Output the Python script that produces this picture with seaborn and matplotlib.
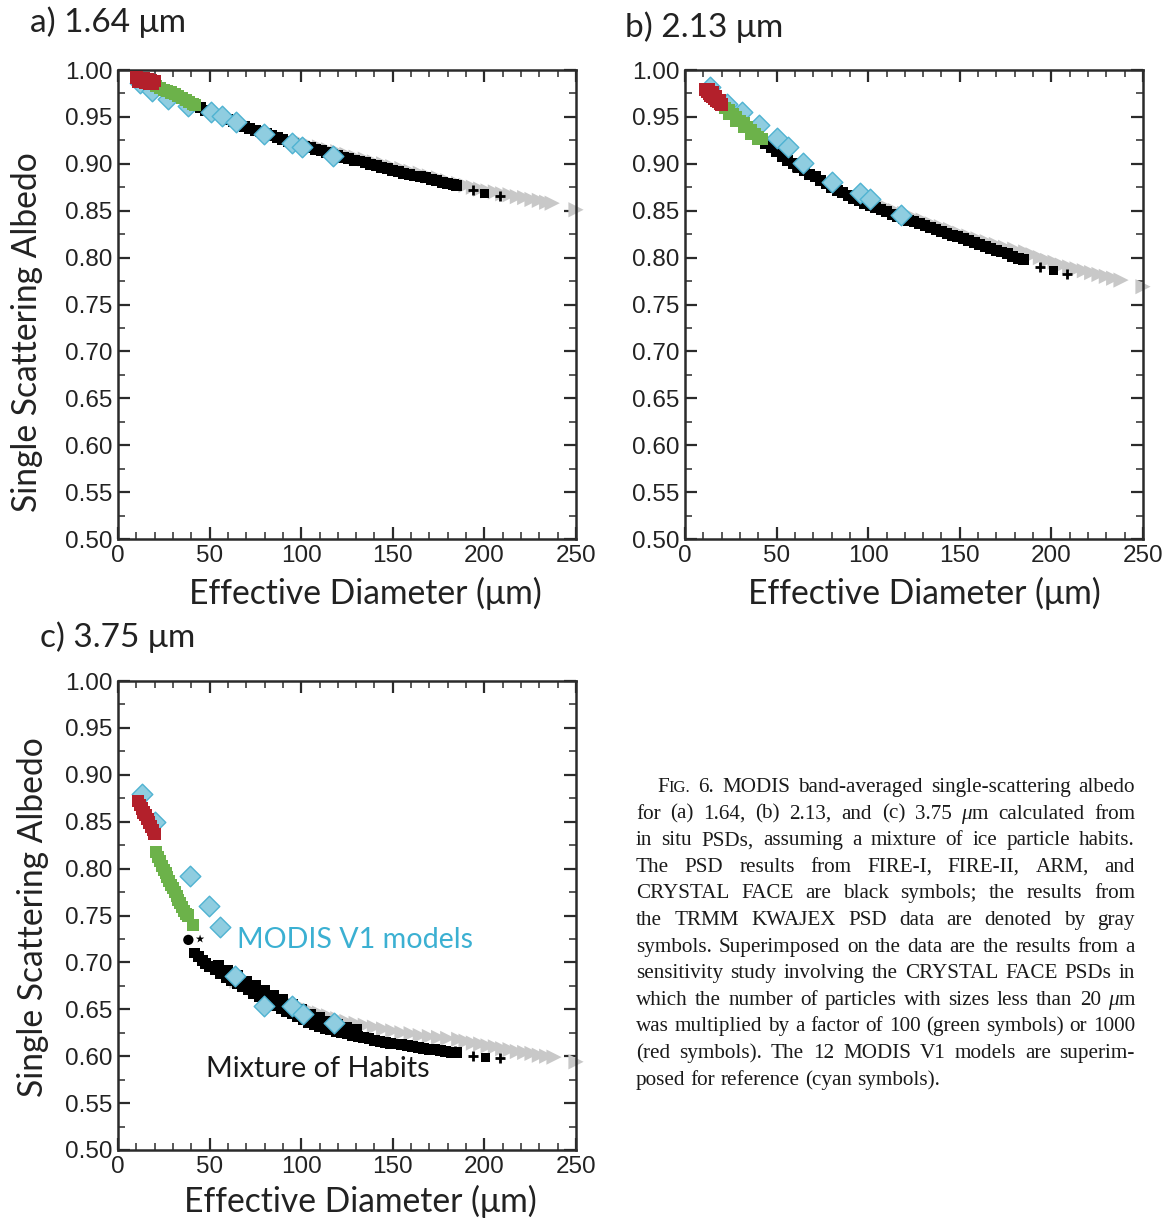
import matplotlib
matplotlib.use("Agg")
import matplotlib.pyplot as plt
from matplotlib.ticker import MultipleLocator, FormatStrFormatter
import seaborn as sns

# ---------------- data ----------------
# Panel a) 1.64 um
a_black_x = [42, 45, 48, 51, 54, 57, 60, 63, 66, 69, 72, 75, 78, 81, 84, 87, 90, 93, 96, 99,
             102, 105, 108, 111, 114, 117, 120, 123, 126, 129, 132, 135, 138, 141, 144, 147,
             150, 153, 156, 159, 162, 165, 168, 171, 174, 177, 180, 183, 185]
a_black_y = [.962, .960, .957, .955, .952, .950, .947, .945, .942, .940, .938, .936, .934, .932,
             .930, .928, .926, .924, .922, .920, .919, .917, .915, .914, .912, .910, .909, .907,
             .906, .904, .903, .901, .899, .898, .896, .895, .893, .892, .890, .889, .887, .886,
             .885, .883, .882, .880, .879, .878, .877]
a_plus_x = [184, 194, 208.5]
a_plus_y = [.877, .872, .866]
a_sq_x = [200]
a_sq_y = [.868]
a_gray_x = [100, 105, 110, 115, 120, 125, 130, 135, 140, 145, 150, 155, 160, 165, 170, 175,
            180, 186, 190, 194, 198, 202, 206, 210, 214, 218, 222, 226, 230, 234, 237, 250]
a_gray_y = [.923, .920, .918, .915, .913, .910, .907, .905, .902, .900, .897, .895, .892, .890,
            .887, .885, .882, .879, .877, .875, .873, .871, .870, .868, .867, .865, .864, .862,
            .861, .859, .858, .851]
a_cyan_x = [12, 18.4, 27.5, 38.4, 50.5, 57, 64.4, 79.9, 94.8, 100.3, 117.5]
a_cyan_y = [.986, .978, .969, .962, .955, .951, .945, .932, .922, .918, .908]
a_green_x = [21, 23, 25, 27, 29, 31, 33, 35, 37, 39, 41, 42]
a_green_y = [.983, .981, .979, .978, .976, .974, .972, .970, .968, .966, .964, .963]
a_red_x = [10, 12, 14, 16, 18, 20, 11, 13, 15, 17, 19]
a_red_y = [.992, .991, .991, .990, .989, .988, .987, .987, .986, .985, .985]

# Panel b) 2.13 um
b_black_x = [41, 44, 47, 50, 53, 56, 59, 62, 65, 68, 71, 74, 77, 80, 83, 86, 89, 92, 95, 98,
             101, 104, 107, 110, 113, 116, 119, 122, 125, 128, 131, 134, 137, 140, 143, 146,
             149, 152, 155, 158, 161, 164, 167, 170, 173, 176, 179, 182, 185]
b_black_y = [.927, .922, .917, .913, .908, .904, .900, .896, .893, .889, .886, .882, .879, .875,
             .872, .869, .866, .863, .861, .858, .856, .853, .851, .849, .846, .844, .842, .840,
             .838, .836, .834, .832, .830, .828, .826, .824, .822, .820, .818, .816, .814, .812,
             .810, .808, .806, .804, .801, .799, .798]
b_plus_x = [59, 184, 193.8, 208.3]
b_plus_y = [.897, .798, .790, .783]
b_sq_x = [201]
b_sq_y = [.786]
b_gray_x = [100, 105, 110, 115, 120, 125, 130, 135, 140, 145, 150, 155, 160, 165, 170, 175,
            180, 186, 190, 194, 198, 202, 206, 210, 214, 218, 222, 226, 230, 234, 238, 250]
b_gray_y = [.861, .857, .854, .850, .847, .843, .840, .836, .833, .830, .826, .823, .820, .817,
            .814, .811, .809, .806, .803, .800, .797, .795, .792, .790, .788, .786, .784, .782,
            .780, .778, .776, .769]
b_cyan_x = [13.5, 22.8, 31, 40.5, 50, 56.4, 64.2, 80.1, 95.5, 101, 117.7]
b_cyan_y = [.982, .964, .955, .941, .927, .918, .901, .881, .869, .862, .845]
b_green_x = [22, 24, 26, 28, 30, 32, 34, 36, 38, 40, 42, 24, 28, 32, 36, 40]
b_green_y = [.960, .957, .953, .950, .946, .943, .939, .936, .932, .929, .926,
             .953, .946, .939, .932, .926]
b_red_x = [11, 12, 13, 14, 15, 16, 17, 18, 19, 20, 13, 15, 17, 19]
b_red_y = [.979, .977, .975, .973, .971, .969, .967, .966, .964, .963, .979, .976, .972, .968]

# Panel c) 3.75 um
c_black_x = [42, 44, 46, 48, 50, 53, 56, 59, 62, 65, 68, 71, 74, 77, 80, 83, 86, 89, 92, 95,
             98, 101, 104, 107, 110, 113, 116, 119, 122, 125, 128, 131, 134, 137, 140, 143,
             146, 149, 152, 155, 158, 161, 164, 167, 170, 173, 176, 179, 182, 185]
c_black_y = [.710, .706, .702, .699, .696, .692, .688, .684, .681, .678, .674, .671, .667, .664,
             .661, .657, .654, .651, .648, .645, .642, .639, .636, .634, .632, .630, .628, .626,
             .625, .624, .622, .621, .620, .619, .617, .616, .615, .614, .613, .612, .611, .610,
             .609, .608, .607, .607, .606, .605, .604, .604]
c_black2_x = [55, 60, 65, 70, 75, 80, 85, 90, 95, 100, 105, 110, 115, 120, 125, 130]
c_black2_y = [.697, .691, .686, .680, .675, .670, .665, .660, .655, .650, .645, .641, .637,
              .634, .631, .628]
c_plus_x = [184, 194, 208.5]
c_plus_y = [.606, .600, .598]
c_sq_x = [200.6]
c_sq_y = [.599]
c_dot_x = [38.4]
c_dot_y = [.724]
c_star_x = [44.8]
c_star_y = [.725]
c_gray_x = [65, 70, 75, 80, 85, 90, 95, 100, 105, 110, 115, 120, 125, 130, 135, 140, 145, 150,
            155, 160, 165, 170, 175, 180, 186, 190, 194, 198, 202, 206, 210, 214, 218, 222,
            226, 230, 234, 238, 250]
c_gray_y = [.680, .676, .672, .668, .664, .660, .656, .653, .649, .646, .643, .640, .637, .635,
            .633, .631, .629, .627, .625, .624, .622, .621, .620, .619, .618, .616, .614, .613,
            .611, .610, .608, .607, .605, .604, .603, .601, .600, .599, .594]
c_cyan_x = [12.9, 20.4, 39.1, 49.7, 55.5, 63.9, 79.7, 94.8, 100.8, 117.9]
c_cyan_y = [.880, .850, .792, .760, .738, .686, .653, .653, .645, .635]
c_green_x = [21, 22, 23, 24, 25, 26, 27, 28, 29, 30, 31, 32, 33, 34, 35, 36, 37, 38, 41]
c_green_y = [.818, .812, .808, .803, .799, .795, .791, .787, .783, .779, .775, .771, .767,
             .763, .759, .755, .752, .750, .740]
c_red_x = [11, 12, 13, 14, 15, 16, 17, 18, 19, 20]
c_red_y = [.872, .868, .864, .860, .857, .853, .849, .845, .841, .837]

x_ticks = [0, 50, 100, 150, 200, 250]
titles = ["a) 1.64 \u03bcm", "b) 2.13 \u03bcm", "c) 3.75 \u03bcm"]
xlabel = "Effective Diameter (\u03bcm)"
ylabel = "Single Scattering Albedo"

# ---------------- styling ----------------
sns.set_style("ticks")
plt.rcParams["font.family"] = ["Liberation Sans", "DejaVu Sans"]
HUM = ["Lato", "DejaVu Sans"]

C_GRAY = "#c8c8c8"
C_CYAN = "#8fcde0"
C_CYAN_E = "#4fb3d2"
C_GREEN = "#6cb24a"
C_RED = "#b3202b"
SPINE = "#2b2b2b"

W, H = 1167, 1222
fig = plt.figure(figsize=(W / 100, H / 100), dpi=100)


def fx(px):
    return px / W


def fy(py):
    return 1 - py / H


def make_ax(left, top):
    return fig.add_axes([fx(left), fy(top + 469), 458 / W, 469 / H])


def style_ax(ax):
    ax.set_xlim(0, 250)
    ax.set_ylim(0.5, 1.0)
    ax.xaxis.set_major_locator(MultipleLocator(50))
    ax.xaxis.set_minor_locator(MultipleLocator(10))
    ax.yaxis.set_major_locator(MultipleLocator(0.05))
    ax.yaxis.set_minor_locator(MultipleLocator(0.025))
    ax.yaxis.set_major_formatter(FormatStrFormatter("%.2f"))
    ax.tick_params(which="both", direction="in", top=True, right=True, colors=SPINE,
                   labelcolor="#222222")
    ax.tick_params(which="major", length=8.5, width=1.6, labelsize=17.5, pad=4)
    ax.tick_params(which="minor", length=5, width=1.1)
    for sp in ax.spines.values():
        sp.set_linewidth(1.8)
        sp.set_color(SPINE)
        sp.set_visible(True)
    ax.set_xlabel("")
    ax.set_ylabel("")


def draw_panel(ax, gray, black, black2, plus, sq, cyan, green, red):
    sns.scatterplot(x=gray[0], y=gray[1], marker=">", s=120, color=C_GRAY, edgecolor="none",
                    linewidth=0, ax=ax, zorder=2, clip_on=False, legend=False)
    sns.scatterplot(x=black[0], y=black[1], marker="s", s=62, color="black", edgecolor="none",
                    linewidth=0, ax=ax, zorder=3, legend=False)
    if black2 is not None:
        sns.scatterplot(x=black2[0], y=black2[1], marker="s", s=62, color="black",
                        edgecolor="none", linewidth=0, ax=ax, zorder=3, legend=False)
    sns.scatterplot(x=plus[0], y=plus[1], marker="+", s=60, color="black", linewidth=2,
                    ax=ax, zorder=3, legend=False)
    sns.scatterplot(x=sq[0], y=sq[1], marker="s", s=40, color="black", edgecolor="none",
                    linewidth=0, ax=ax, zorder=3, legend=False)
    sns.scatterplot(x=cyan[0], y=cyan[1], marker="D", s=110, color=C_CYAN, edgecolor=C_CYAN_E,
                    linewidth=1, ax=ax, zorder=4, legend=False)
    sns.scatterplot(x=green[0], y=green[1], marker="s", s=75, color=C_GREEN, edgecolor="none",
                    linewidth=0, ax=ax, zorder=5, legend=False)
    sns.scatterplot(x=red[0], y=red[1], marker="s", s=80, color=C_RED, edgecolor="none",
                    linewidth=0, ax=ax, zorder=6, legend=False)
    style_ax(ax)


ax_a = make_ax(118, 70)
draw_panel(ax_a, (a_gray_x, a_gray_y), (a_black_x, a_black_y), None, (a_plus_x, a_plus_y),
           (a_sq_x, a_sq_y), (a_cyan_x, a_cyan_y), (a_green_x, a_green_y), (a_red_x, a_red_y))

ax_b = make_ax(685, 70)
draw_panel(ax_b, (b_gray_x, b_gray_y), (b_black_x, b_black_y), None, (b_plus_x, b_plus_y),
           (b_sq_x, b_sq_y), (b_cyan_x, b_cyan_y), (b_green_x, b_green_y), (b_red_x, b_red_y))

ax_c = make_ax(118, 681)
draw_panel(ax_c, (c_gray_x, c_gray_y), (c_black_x, c_black_y), (c_black2_x, c_black2_y),
           (c_plus_x, c_plus_y), (c_sq_x, c_sq_y), (c_cyan_x, c_cyan_y),
           (c_green_x, c_green_y), (c_red_x, c_red_y))
sns.scatterplot(x=c_dot_x, y=c_dot_y, marker="o", s=55, color="black", edgecolor="none",
                ax=ax_c, zorder=3, legend=False)
sns.scatterplot(x=c_star_x, y=c_star_y, marker="*", s=40, color="black", edgecolor="none",
                ax=ax_c, zorder=3, legend=False)

for ax in (ax_a, ax_b, ax_c):
    ax.set_xticks(x_ticks)
    ax.set_xticklabels([str(t) for t in x_ticks])

# panel titles
TS = 24
fig.text(fx(30), fy(22), titles[0], fontsize=TS, family=HUM, color="#222222", va="center", ha="left")
fig.text(fx(625), fy(27), titles[1], fontsize=TS, family=HUM, color="#222222", va="center", ha="left")
fig.text(fx(40), fy(637), titles[2], fontsize=TS, family=HUM, color="#222222", va="center", ha="left")

# axis labels
for cx, cy in [(365, 593), (924, 593), (360, 1201)]:
    fig.text(fx(cx), fy(cy), xlabel, fontsize=24.2, family=HUM, color="#222222",
             ha="center", va="center")
for cx, cy in [(27, 332), (33, 917)]:
    fig.text(fx(cx), fy(cy), ylabel, fontsize=24.2, family=HUM, color="#222222",
             ha="center", va="center", rotation=90)

# in-plot annotations (panel c)
fig.text(fx(237), fy(940), "MODIS V1 models", fontsize=20.6, family=HUM, color="#3bb0d2",
         ha="left", va="center")
fig.text(fx(206), fy(1069), "Mixture of Habits", fontsize=20.8, family=HUM, color="#1a1a1a",
         ha="left", va="center")

# ---------------- caption (justified, serif) ----------------
CS = 15.2
SC = 12.0
SERIF = ["Liberation Serif", "DejaVu Serif"]
cap_lines = [
    "FIG. 6. MODIS band-averaged single-scattering albedo",
    "for (a) 1.64, (b) 2.13, and (c) 3.75 \u03bcm calculated from",
    "in situ PSDs, assuming a mixture of ice particle habits.",
    "The PSD results from FIRE-I, FIRE-II, ARM, and",
    "CRYSTAL FACE are black symbols; the results from",
    "the TRMM KWAJEX PSD data are denoted by gray",
    "symbols. Superimposed on the data are the results from a",
    "sensitivity study involving the CRYSTAL FACE PSDs in",
    "which the number of particles with sizes less than 20 \u03bcm",
    "was multiplied by a factor of 100 (green symbols) or 1000",
    "(red symbols). The 12 MODIS V1 models are superim-",
    "posed for reference (cyan symbols).",
]

renderer = fig.canvas.get_renderer()


def segs_for(word, size):
    if word == "FIG.":
        return [("F", size, "normal"), ("IG.", size * SC / CS, "normal")]
    if word == "\u03bcm":
        return [("\u03bc", size, "italic"), ("m", size, "normal")]
    return [(word, size, "normal")]


def seg_width(t, sz, st):
    tt = fig.text(0, 0, t, fontsize=sz, family=SERIF, style=st)
    w = tt.get_window_extent(renderer).width
    tt.remove()
    return w


X0, X1 = 636, 1135
for i, line in enumerate(cap_lines):
    base = 792 + 26.6 * i
    start = X0 + (21 if i == 0 else 0)
    words = line.split(" ")
    last = i == len(cap_lines) - 1
    size = CS
    while True:
        wsegs = [segs_for(w, size) for w in words]
        widths = [[seg_width(*s) for s in ws] for ws in wsegs]
        totals = [sum(w) for w in widths]
        space = seg_width("a b", size, "normal") - seg_width("ab", size, "normal")
        if last:
            gap = space
            break
        gap = (X1 - start - sum(totals)) / (len(words) - 1)
        if gap >= 0.55 * space or size < 11:
            break
        size -= 0.2
    x = start
    for ws, wl in zip(wsegs, widths):
        xx = x
        for (t, sz, st), w in zip(ws, wl):
            fig.text(fx(xx), fy(base), t, fontsize=sz, family=SERIF, style=st,
                     color="#1a1a1a", ha="left", va="baseline")
            xx += w
        x = xx + gap

fig.savefig("out.png", dpi=100)
